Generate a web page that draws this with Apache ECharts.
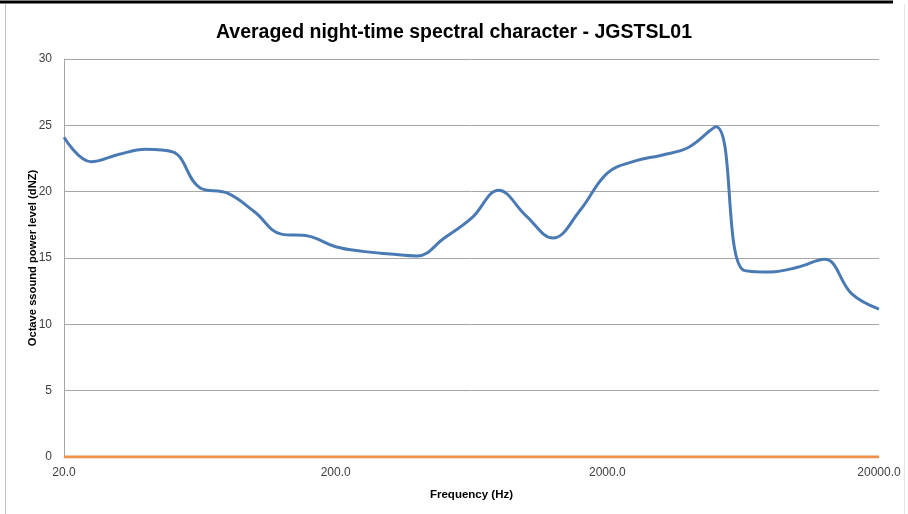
<!DOCTYPE html>
<html>
<head>
<meta charset="utf-8">
<script src="https://cdn.jsdelivr.net/npm/echarts@6/dist/echarts.min.js"></script>
<style>html,body{margin:0;padding:0;background:#fff;}#c{width:908px;height:514px;}</style>
</head>
<body>
<div id="c"></div>
<script>
const frequencies = [20, 25, 31.5, 40, 50, 63, 80, 100, 125, 160, 200, 250, 315, 400, 500, 630, 800, 1000, 1250, 1600, 2000, 2500, 3150, 4000, 5000, 6300, 8000, 10000, 12500, 16000, 20000];
const levels = [24.1, 22.25, 22.8, 23.2, 23.0, 20.3, 19.9, 18.5, 16.8, 16.65, 15.85, 15.5, 15.3, 15.15, 16.5, 18.0, 20.1, 18.2, 16.5, 18.6, 21.4, 22.3, 22.75, 23.35, 24.9, 14.1, 13.95, 14.3, 14.9, 12.3, 11.15];
const baseline = [0, 0, 0, 0, 0, 0, 0, 0, 0, 0, 0, 0, 0, 0, 0, 0, 0, 0, 0, 0, 0, 0, 0, 0, 0, 0, 0, 0, 0, 0, 0];
const yTicks = [0, 5, 10, 15, 20, 25, 30];

const FONT = '"Liberation Sans", sans-serif';
const chart = echarts.init(document.getElementById('c'), null, {renderer: 'canvas'});
chart.setOption({
  animation: false,
  backgroundColor: '#fff',
  title: {
    text: 'Averaged night-time spectral character - JGSTSL01',
    left: 'center', top: 18,
    textStyle: {fontFamily: FONT, fontWeight: 'bold', fontSize: 19.5, color: '#000'}
  },
  graphic: [
    {type: 'line', shape: {x1: 0, y1: 2, x2: 893, y2: 2}, style: {stroke: '#000', lineWidth: 3}},
    {type: 'line', shape: {x1: 5.5, y1: 4, x2: 5.5, y2: 514}, style: {stroke: '#bfbfbf', lineWidth: 1}},
    {type: 'line', shape: {x1: 904.5, y1: 4, x2: 904.5, y2: 514}, style: {stroke: '#e6e6e6', lineWidth: 1}}
  ],
  grid: {left: 64, right: 29, top: 59, bottom: 57, containLabel: false},
  xAxis: {
    type: 'category',
    boundaryGap: false,
    data: frequencies.map(f => f.toFixed(1)),
    name: 'Frequency (Hz)',
    nameLocation: 'middle',
    nameGap: 32,
    nameMoveOverlap: false,
    nameTextStyle: {fontFamily: FONT, fontWeight: 'bold', fontSize: 11.5, color: '#000'},
    axisLine: {show: true, lineStyle: {color: '#a6a6a6'}},
    axisTick: {show: false},
    axisLabel: {interval: 9, fontFamily: FONT, fontSize: 12, color: '#404040', margin: 10},
    splitLine: {show: false}
  },
  yAxis: {
    type: 'value',
    min: yTicks[0], max: yTicks[yTicks.length - 1], interval: 5,
    name: 'Octave ssound power level (dNZ)',
    nameLocation: 'middle',
    nameGap: 26,
    nameMoveOverlap: false,
    nameTextStyle: {fontFamily: FONT, fontWeight: 'bold', fontSize: 11.2, color: '#000'},
    axisLine: {show: true, lineStyle: {color: '#a6a6a6'}},
    axisTick: {show: false},
    axisLabel: {fontFamily: FONT, fontSize: 12, color: '#404040', margin: 12},
    splitLine: {show: true, lineStyle: {color: '#a6a6a6', width: 1}}
  },
  series: [
    {
      type: 'line', data: levels, smooth: 0.4, symbol: 'none',
      lineStyle: {color: '#4a7ab4', width: 3}, z: 3
    },
    {
      type: 'line', data: baseline, symbol: 'none',
      lineStyle: {color: '#f0914a', width: 3}, z: 2
    }
  ]
});
</script>
</body>
</html>
